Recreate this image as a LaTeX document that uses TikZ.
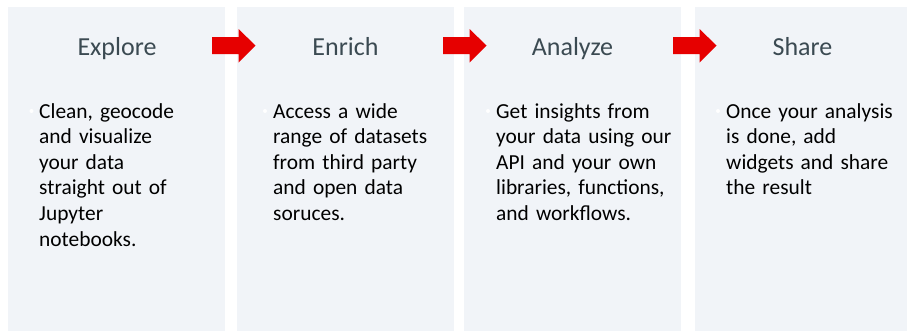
\documentclass[tikz,border=0pt]{standalone}
\usepackage{fontspec}
\setmainfont{Carlito}
\definecolor{panelfill}{RGB}{241,244,248}
\definecolor{arrowred}{RGB}{230,0,0}
\definecolor{titlegray}{RGB}{59,74,82}
\begin{document}
\begin{tikzpicture}[x=1pt,y=-1pt,
  panel/.style={fill=panelfill,draw=none},
  ttl/.style={text=titlegray,font=\fontsize{26}{31}\selectfont,anchor=base,inner sep=0pt},
  body/.style={text=black,font=\fontsize{21.4}{25.6}\selectfont,anchor=base west,inner sep=0pt,text width=190pt,align=left},
  blockarrow/.style={fill=arrowred,draw=none},
  dot/.style={circle,fill=white,inner sep=0pt,minimum size=4pt}]
\useasboundingbox (0,0) rectangle (907,330);
\fill[white] (0,0) rectangle (907,330);
\begin{scope}
\clip (0,0) rectangle (907,330);
\path[panel] (8,7) rectangle (225,335) coordinate (p1);
\path[panel] (237,7) rectangle (454,335) coordinate (p2);
\path[panel] (464,7) rectangle (681,335) coordinate (p3);
\path[panel] (695,7) rectangle (912,335) coordinate (p4);
\end{scope}
\node[ttl] (t1) at (117,55) {Explore};
\node[ttl] (t2) at (345.5,55) {Enrich};
\node[ttl] (t3) at (572.5,55) {Analyze};
\node[ttl] (t4) at (802.5,55) {Share};
\node[dot] (d1) at (31.5,111) {};
\node[dot] (d2) at (265,111) {};
\node[dot] (d3) at (488,111) {};
\node[dot] (d4) at (718,111) {};
\node[body] (b1) at (39,118) {Clean, geocode\\and visualize\\your data\\straight out of\\Jupyter\\notebooks.};
\node[body] (b2) at (273,118) {Access a wide\\range of datasets\\from third party\\and open data\\soruces.};
\node[body] (b3) at (496,118) {Get insights from\\your data using our\\API and your own\\libraries, functions,\\and workflows.};
\node[body] (b4) at (726,118) {Once your analysis\\is done, add\\widgets and share\\the result};
\foreach \x/\n in {212/a1,443/a2,673/a3}{
  \path[blockarrow] (\x,37) -- (\x+26.5,37) -- (\x+26.5,29) -- (\x+43.5,45.5) -- (\x+26.5,62.5) -- (\x+26.5,54) -- (\x,54) -- cycle;
}
\end{tikzpicture}
\end{document}
